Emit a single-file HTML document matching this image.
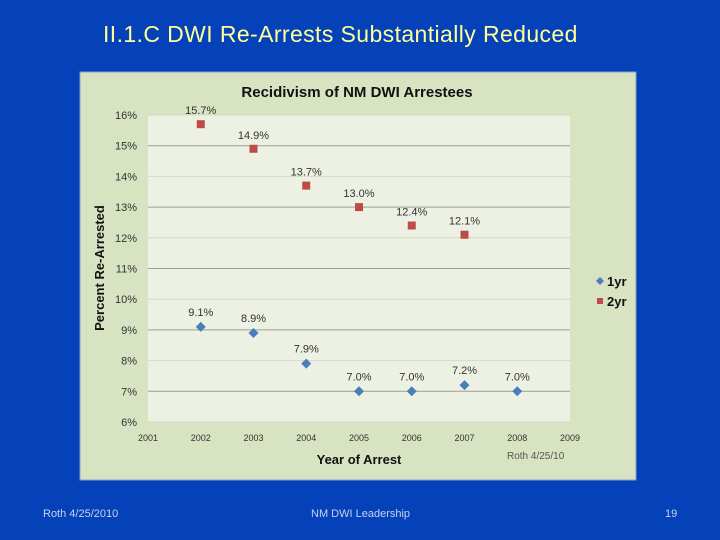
<!DOCTYPE html>
<html><head><meta charset="utf-8"><style>
body{margin:0;width:720px;height:540px;background:#0541b9;overflow:hidden;font-family:"Liberation Sans",sans-serif;position:relative}
.t{position:absolute}
</style></head><body>
<div class="t" style="left:103px;top:21px;font-size:23px;color:#ffff99;letter-spacing:0.4px;white-space:nowrap">II.1.C DWI Re-Arrests Substantially Reduced</div>
<svg width="720" height="540" style="position:absolute;left:0;top:0" id="svg" font-family="Liberation Sans, sans-serif">
<rect x="80" y="72" width="556" height="408" fill="#d7e3c1" stroke="#8aa0c8"/>
<rect x="148" y="115" width="422" height="307" fill="#edf1e4"/>
<text x="357" y="97" text-anchor="middle" font-size="15" font-weight="bold" fill="#111">Recidivism of NM DWI Arrestees</text>
<text transform="translate(104,268) rotate(-90)" text-anchor="middle" font-size="13" font-weight="bold" fill="#111">Percent Re-Arrested</text>
<text x="359" y="464" text-anchor="middle" font-size="13" font-weight="bold" fill="#111">Year of Arrest</text>
<text x="507" y="459" font-size="10" fill="#555">Roth 4/25/10</text>
<g id="grid"></g><g id="marks"></g>
<g>
<path d="M600 277 l4 4 -4 4 -4 -4z" fill="#4a7ebb"/>
<text x="607" y="286" font-size="13" font-weight="bold" fill="#111">1yr</text>
<rect x="597" y="298" width="6" height="6" fill="#be4b48"/>
<text x="607" y="306" font-size="13" font-weight="bold" fill="#111">2yr</text>
</g>
</svg>
<div class="t" style="left:43px;top:508px;font-size:11px;color:#c8d4f0">Roth 4/25/2010</div>
<div class="t" style="left:311px;top:508px;font-size:11px;color:#c8d4f0">NM DWI Leadership</div>
<div class="t" style="left:665px;top:508px;font-size:11px;color:#c8d4f0">19</div>
<script>
const years=[2002,2003,2004,2005,2006,2007,2008];
const oneYr=[9.1,8.9,7.9,7.0,7.0,7.2,7.0];
const twoYr=[15.7,14.9,13.7,13.0,12.4,12.1];
const twoYrLabels=["15.7%","14.9%","13.7%","13.0%","12.4%","12.1%"];
const oneYrLabels=["9.1%","8.9%","7.9%","7.0%","7.0%","7.2%","7.0%"];
const yTicks=[6,7,8,9,10,11,12,13,14,15,16];
const xTicks=[2001,2002,2003,2004,2005,2006,2007,2008,2009];
const X=v=>148+(v-2001)*422/8, Y=v=>422-(v-6)*307/10;
const NS="http://www.w3.org/2000/svg";
const grid=document.getElementById('grid'), marks=document.getElementById('marks');
function mk(p,tag,a){const e=document.createElementNS(NS,tag);for(const k in a)e.setAttribute(k,a[k]);p.appendChild(e);return e;}
yTicks.forEach(v=>{
  const l=mk(grid,'line',{x1:148,x2:570,y1:Y(v),y2:Y(v),stroke:v%2?'#9aa08f':'#d4d8c8','stroke-width':1});
  
  
  const t=mk(grid,'text',{x:137,y:Y(v)+4,'text-anchor':'end','font-size':11,fill:'#333'});
  t.textContent=v+'%';
  
  
});
xTicks.forEach(v=>{
  const t=mk(grid,'text',{x:X(v),y:441,'text-anchor':'middle','font-size':9,fill:'#333'});
  t.textContent=v;
  
  
});
twoYr.forEach((v,i)=>{
  const r=mk(marks,'rect',{x:X(years[i])-4,y:Y(v)-4,width:8,height:8,fill:'#be4b48'});
  
  
  const t=mk(marks,'text',{x:X(years[i]),y:Y(v)-10,'text-anchor':'middle','font-size':11,fill:'#333'});
  t.textContent=twoYrLabels[i];
  
  
});
oneYr.forEach((v,i)=>{
  const x=X(years[i]),y=Y(v);
  const p=mk(marks,'path',{d:`M${x} ${y-5} L${x+5} ${y} L${x} ${y+5} L${x-5} ${y}Z`,fill:'#4a7ebb'});
  
  
  const t=mk(marks,'text',{x:x,y:y-11,'text-anchor':'middle','font-size':11,fill:'#333'});
  t.textContent=oneYrLabels[i];
  
  
});
</script>
</body></html>
